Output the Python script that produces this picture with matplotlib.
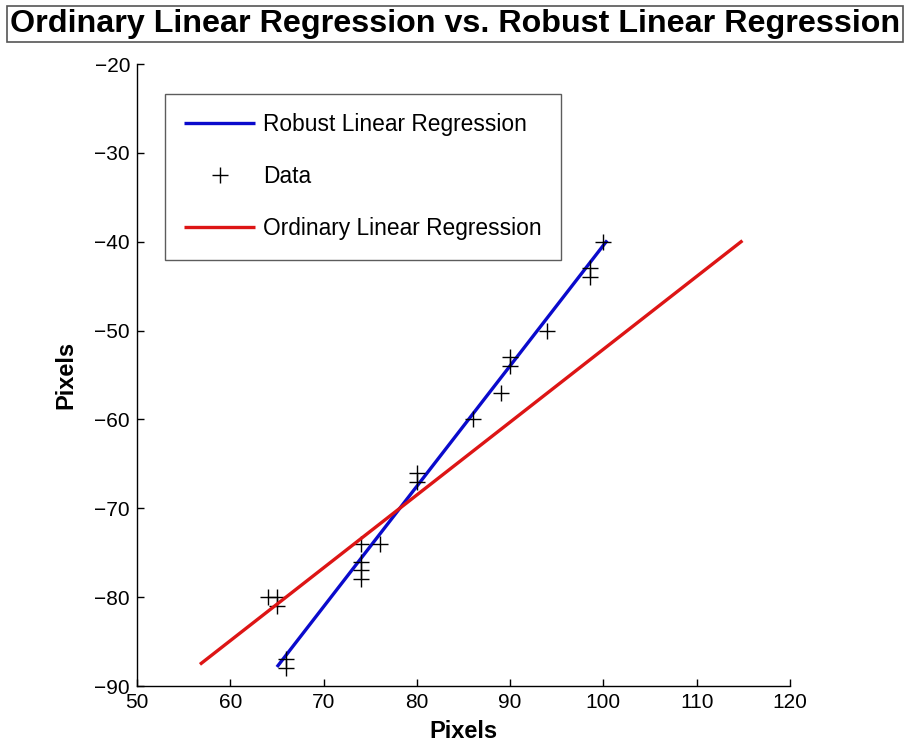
import matplotlib
matplotlib.use("Agg")
import matplotlib.pyplot as plt
import numpy as np

# ---- data ----
data_x = [100, 98.6, 98.6, 94, 90, 90, 89, 86, 80, 80, 74, 76, 74, 74, 74, 64, 65, 65, 66, 66]
data_y = [-40, -43, -44, -50, -53, -54, -57, -60, -66, -67, -74, -74, -76, -77, -78, -80, -80, -81, -87, -88]

robust_coef = [1.356, -176.0]      # slope, intercept
robust_xrange = [65.0, 100.4]
ols_coef = [0.82, -134.1]
ols_xrange = [56.75, 114.9]

x_ticks = [50, 60, 70, 80, 90, 100, 110, 120]
y_ticks = [-90, -80, -70, -60, -50, -40, -30, -20]

title = "Ordinary Linear Regression vs. Robust Linear Regression"

regular = ['Liberation Sans', 'DejaVu Sans']

fig = plt.figure(figsize=(9.06, 7.44), dpi=100)
ax = fig.add_axes([137/906, 58/744, 653/906, 622/744])

rx = np.array(robust_xrange)
ox = np.array(ols_xrange)
l1, = ax.plot(rx, robust_coef[0]*rx + robust_coef[1], color='#0a0acc', lw=2.4, label='Robust Linear Regression', solid_capstyle='butt')
l2, = ax.plot(data_x, data_y, linestyle='none', marker='+', ms=12, mew=1.0, color='black', label='Data')
l3, = ax.plot(ox, ols_coef[0]*ox + ols_coef[1], color='#dd1515', lw=2.4, label='Ordinary Linear Regression', solid_capstyle='butt')

ax.set_xlim(50, 120)
ax.set_ylim(-90, -20)
ax.set_xticks(x_ticks)
ax.set_yticks(y_ticks)
ax.set_xticklabels([str(t) for t in x_ticks], family=regular, fontsize=15)
ax.set_yticklabels([("\u2212" + str(-t)) if t < 0 else str(t) for t in y_ticks], family=regular, fontsize=15)
ax.tick_params(direction='in', length=5, width=1, pad=5)
for s in ['top', 'right']:
    ax.spines[s].set_visible(False)
for s in ['left', 'bottom']:
    ax.spines[s].set_linewidth(1.0)

ax.set_xlabel('Pixels', family=regular, fontsize=17, fontweight='bold', labelpad=6)
ax.set_ylabel('Pixels', family=regular, fontsize=17, fontweight='bold', labelpad=12)

leg = ax.legend(handles=[l1, l2, l3], loc='upper left', bbox_to_anchor=((165-137)/653, (686-94)/622),
                borderaxespad=0, frameon=True, fancybox=False, edgecolor='#333333',
                prop={'family': regular, 'size': 16.4}, handlelength=3.1, labelspacing=1.27,
                borderpad=0.85, handletextpad=0.35)
leg.get_frame().set_linewidth(1.0)

fig.text(455/906, 1 - 24/744, title, ha='center', va='center', family=regular, fontsize=23.2, fontweight='bold',
         bbox=dict(boxstyle='square,pad=0.1', facecolor='white', edgecolor='#555555', linewidth=1.2))

fig.savefig('out.png', dpi=100)
